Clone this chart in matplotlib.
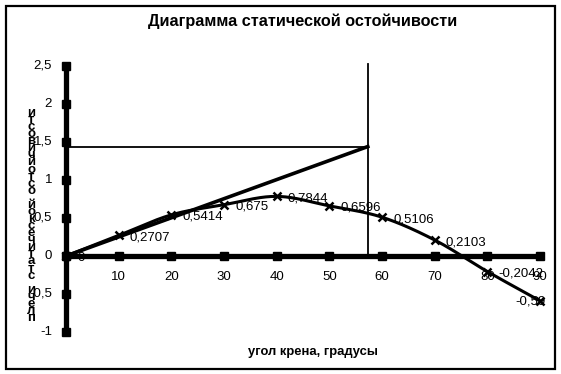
import numpy as np
import matplotlib
matplotlib.use("Agg")
import matplotlib.pyplot as plt
from matplotlib.patches import Rectangle

plt.rcParams['font.family'] = ['Liberation Sans', 'DejaVu Sans']

# Data
angles = [0, 10, 20, 30, 40, 50, 60, 70, 80, 90]
arms = [0, 0.2707, 0.5414, 0.675, 0.7844, 0.6596, 0.5106, 0.2103, -0.2042, -0.59]
arm_labels = ["0", "0,2707", "0,5414", "0,675", "0,7844", "0,6596", "0,5106", "0,2103", "-0,2042", "-0,59"]
x_ticks = [10, 20, 30, 40, 50, 60, 70, 80, 90]
y_ticks = [-1, -0.5, 0, 0.5, 1, 1.5, 2, 2.5]
y_tick_labels = ["-1", "-0,5", "0", "0,5", "1", "1,5", "2", "2,5"]
radian_deg = 57.3
tangent_h = 1.44
title = "Диаграмма статической остойчивости"
xlabel = "угол крена, градусы"
ylabel = "плечи статической остойчивости"

W, H = 561, 374
fig = plt.figure(figsize=(W / 100, H / 100), dpi=100)
fig.patch.set_facecolor('white')

# outer frame
fig.patches.append(Rectangle((6 / W, 1 - 369 / H), (555 - 6) / W, (369 - 6) / H,
                             transform=fig.transFigure, fill=False, lw=1.6, ec='black'))

ax = fig.add_axes([66 / W, 1 - 332 / H, (540 - 66) / W, (332 - 66) / H])
ax.set_xlim(0, 90)
ax.set_ylim(-1, 2.5)
ax.axis('off')

# axes lines
ax.plot([0, 0], [-1, 2.5], color='black', lw=3.8, clip_on=False, zorder=3, solid_capstyle='butt')
ax.plot([0, 90], [0, 0], color='black', lw=3.8, clip_on=False, zorder=3, solid_capstyle='butt')
ax.plot([0] * len(y_ticks), y_ticks, ls='none', marker='s', ms=5.5, color='black', clip_on=False, zorder=3)
ax.plot(x_ticks, [0] * len(x_ticks), ls='none', marker='s', ms=5.5, color='black', clip_on=False, zorder=3)

# tick labels
for v, lab in zip(y_ticks, y_tick_labels):
    ax.annotate(lab, (0, v), xytext=(-14, 0), textcoords='offset pixels',
                ha='right', va='center', fontsize=9.5)
for v in x_ticks:
    ax.annotate(str(v), (v, 0), xytext=(0, -21), textcoords='offset pixels',
                ha='center', va='center', fontsize=9.5)

# smooth curve (Catmull-Rom)
px = np.array(angles, float)
py = np.array(arms, float)
P = np.column_stack([px, py])
Pext = np.vstack([2 * P[0] - P[1], P, 2 * P[-1] - P[-2]])
xs, ys = [], []
t = np.linspace(0, 1, 30)
for i in range(1, len(Pext) - 2):
    p0, p1, p2, p3 = Pext[i - 1], Pext[i], Pext[i + 1], Pext[i + 2]
    tt = t[:, None]
    seg = 0.5 * ((2 * p1) + (-p0 + p2) * tt + (2 * p0 - 5 * p1 + 4 * p2 - p3) * tt ** 2
                 + (-p0 + 3 * p1 - 3 * p2 + p3) * tt ** 3)
    xs.extend(seg[:, 0]); ys.extend(seg[:, 1])
ax.plot(xs, ys, color='black', lw=2.2, clip_on=False, zorder=4)
ax.plot(angles, arms, ls='none', marker='x', ms=6, mew=1.8, color='black', clip_on=False, zorder=5)

# data labels
for i, (a, v, lab) in enumerate(zip(angles, arms, arm_labels)):
    if i == len(angles) - 1:
        ax.annotate(lab, (a, v), xytext=(-9, -1), textcoords='offset pixels',
                    ha='center', va='center', fontsize=9.5, zorder=6)
    else:
        ax.annotate(lab, (a, v), xytext=(11, -2), textcoords='offset pixels',
                    ha='left', va='center', fontsize=9.5, zorder=6)

# tangent construction
ax.plot([0, radian_deg], [0, tangent_h], color='black', lw=2.6, clip_on=False, zorder=4)
ax.plot([0, radian_deg], [tangent_h, tangent_h], color='black', lw=1.3, clip_on=False, zorder=2)
ax.plot([radian_deg, radian_deg], [0, 2.53], color='black', lw=1.3, clip_on=False, zorder=2)
ax.annotate("H", (radian_deg, 2.53), xytext=(13, -21), textcoords='offset pixels',
            ha='center', va='center', fontsize=9.5)

# title & x label
fig.text(303 / W, 1 - 21 / H, title, ha='center', va='center', fontsize=11.7, fontweight='bold')
fig.text(313 / W, 1 - 352 / H, xlabel, ha='center', va='center', fontsize=9.4, fontweight='bold')

# stacked vertical y label (reads bottom to top)
chars = list(ylabel)[::-1]
n = len(chars)
y_top, y_bot = 113, 318
for k, ch in enumerate(chars):
    yy = y_top + (y_bot - y_top) * k / (n - 1)
    fig.text(31 / W, 1 - yy / H, ch, ha='center', va='center', fontsize=9.5, fontweight='bold')

fig.savefig("out.png", dpi=100, facecolor='white')
